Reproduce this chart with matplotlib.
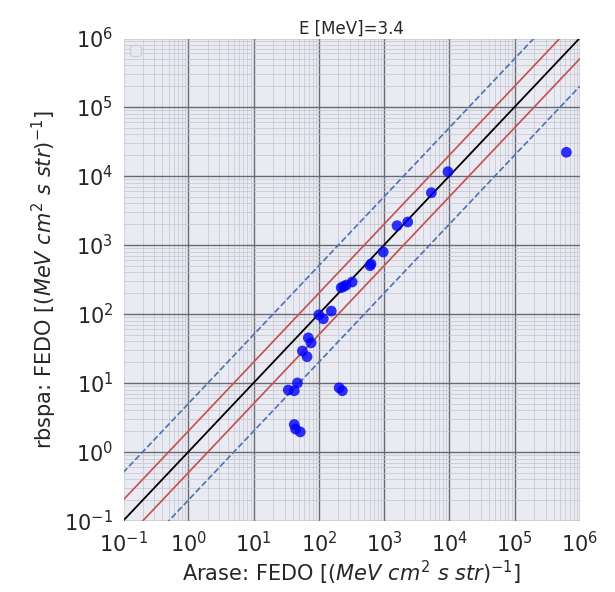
import numpy as np
import matplotlib

matplotlib.use("Agg")
import matplotlib.pyplot as plt
import seaborn as sns

sns.set_style("darkgrid")

energy = 3.4
arase = [9.5e3, 5.3e3, 1.58e3, 2.3e3, 970, 610, 630, 220, 263, 324, 240,
         155, 100, 117, 69, 76, 56, 66, 47, 34, 42, 205, 229, 42, 44, 52, 6.2e5]
rbspa = [1.15e4, 5.7e3, 1.9e3, 2.15e3, 790, 500, 530, 240, 262, 290, 250,
         110, 97, 85, 45, 38, 29, 24, 10, 7.9, 7.7, 8.5, 7.7, 2.5, 2.15, 1.95, 2.2e4]
ratio_lines = [2, 5]
lim = (1e-1, 1e6)

fig = plt.figure(figsize=(6.15, 5.92), dpi=100)
ax = fig.add_axes([0.2, 0.12, 0.743, 0.816])

ref = np.array(lim)
ax.plot(ref, ref, color="black", lw=1.3)
ax.plot(ref, ref * ratio_lines[0], color="#c44e52", lw=1.2)
ax.plot(ref, ref / ratio_lines[0], color="#c44e52", lw=1.2)
ax.plot(ref, ref * ratio_lines[1], color="#4c72b0", lw=1.2, ls="--")
ax.plot(ref, ref / ratio_lines[1], color="#4c72b0", lw=1.2, ls="--")
ax.scatter(arase, rbspa, color="blue", s=60, alpha=0.8, edgecolors="none", zorder=3)

ax.set_xscale("log")
ax.set_yscale("log")
ax.set_xlim(lim)
ax.set_ylim(lim)
ax.grid(True, which="major", color="#6a6a72", lw=1.0)
ax.grid(True, which="minor", color="#c4c4d0", lw=0.5)
ax.tick_params(labelsize=15)
ax.set_xlabel(r"Arase: FEDO [$(MeV\ cm^2\ s\ str)^{-1}$]", fontsize=15, labelpad=2)
ax.set_ylabel(r"rbspa: FEDO [$(MeV\ cm^2\ s\ str)^{-1}$]", fontsize=15)
ax.set_title(f"E [MeV]={energy}", fontsize=12, pad=3)
ax.legend(handles=[], loc="upper left")

fig.savefig("out.png")
